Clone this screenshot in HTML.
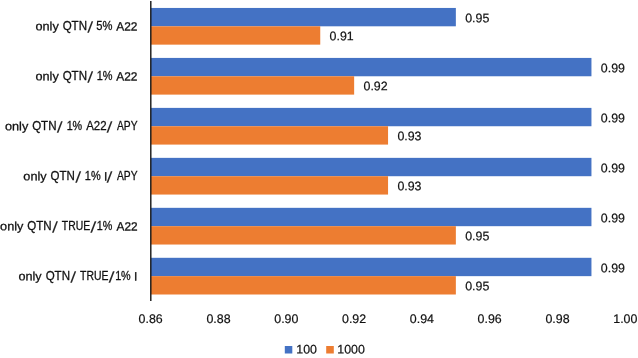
<!DOCTYPE html>
<html><head><meta charset="utf-8"><title>chart</title>
<style>
html,body{margin:0;padding:0;background:#fff;}
body{width:638px;height:358px;overflow:hidden;}
svg{display:block;will-change:transform}
text{font-family:"Liberation Sans",sans-serif;fill:#111;stroke:#111;stroke-width:0.28px}
.c{font-size:12.0px}
.n{font-size:12.4px;stroke-width:0.2px}
.s{font-size:15.5px;stroke:none;fill:#2a2a2a}
</style></head><body>
<svg width="638" height="358" viewBox="0 0 638 358">
<rect x="0" y="0" width="638" height="358" fill="#ffffff"/>
<rect x="150.75" y="7.95" width="305.10" height="18.35" fill="#4472C4"/>
<rect x="150.75" y="26.30" width="169.50" height="18.35" fill="#ED7D31"/>
<text class="n" transform="matrix(1 0.0005 0 1 0 -0.2386)" x="465.20" y="22.25">0.95</text>
<text class="n" transform="matrix(1 0.0005 0 1 0 -0.1708)" x="329.60" y="40.25">0.91</text>
<text class="c" transform="matrix(1 0.0005 0 1 0 -0.0432)"><tspan x="35.44" y="30.40" textLength="23.32" lengthAdjust="spacingAndGlyphs">only</tspan> <tspan x="62.66" y="30.40" textLength="24.35" lengthAdjust="spacingAndGlyphs">QTN</tspan><tspan class="s" x="87.15" y="32.40" textLength="5.99" lengthAdjust="spacingAndGlyphs">/</tspan> <tspan x="96.37" y="30.40" textLength="16.15" lengthAdjust="spacingAndGlyphs">5%</tspan> <tspan x="116.25" y="30.40" textLength="21.21" lengthAdjust="spacingAndGlyphs">A22</tspan></text>
<rect x="150.75" y="57.92" width="440.70" height="18.35" fill="#4472C4"/>
<rect x="150.75" y="76.27" width="203.40" height="18.35" fill="#ED7D31"/>
<text class="n" transform="matrix(1 0.0005 0 1 0 -0.3064)" x="600.80" y="72.25">0.99</text>
<text class="n" transform="matrix(1 0.0005 0 1 0 -0.1878)" x="363.50" y="90.25">0.92</text>
<text class="c" transform="matrix(1 0.0005 0 1 0 -0.0432)"><tspan x="35.44" y="80.40" textLength="23.32" lengthAdjust="spacingAndGlyphs">only</tspan> <tspan x="62.66" y="80.40" textLength="24.35" lengthAdjust="spacingAndGlyphs">QTN</tspan><tspan class="s" x="87.15" y="82.40" textLength="5.99" lengthAdjust="spacingAndGlyphs">/</tspan> <tspan x="96.72" y="80.40" textLength="15.80" lengthAdjust="spacingAndGlyphs">1%</tspan> <tspan x="116.25" y="80.40" textLength="21.21" lengthAdjust="spacingAndGlyphs">A22</tspan></text>
<rect x="150.75" y="107.89" width="440.70" height="18.35" fill="#4472C4"/>
<rect x="150.75" y="126.24" width="237.30" height="18.35" fill="#ED7D31"/>
<text class="n" transform="matrix(1 0.0005 0 1 0 -0.3064)" x="600.80" y="122.25">0.99</text>
<text class="n" transform="matrix(1 0.0005 0 1 0 -0.2047)" x="397.40" y="140.25">0.93</text>
<text class="c" transform="matrix(1 0.0005 0 1 0 -0.0357)"><tspan x="4.94" y="130.40" textLength="23.32" lengthAdjust="spacingAndGlyphs">only</tspan> <tspan x="32.16" y="130.40" textLength="24.35" lengthAdjust="spacingAndGlyphs">QTN</tspan><tspan class="s" x="56.85" y="132.40" textLength="5.99" lengthAdjust="spacingAndGlyphs">/</tspan> <tspan x="66.63" y="130.40" textLength="15.58" lengthAdjust="spacingAndGlyphs">1%</tspan> <tspan x="86.14" y="130.40" textLength="20.40" lengthAdjust="spacingAndGlyphs">A22</tspan><tspan class="s" x="106.55" y="132.40" textLength="5.99" lengthAdjust="spacingAndGlyphs">/</tspan> <tspan x="116.91" y="130.40" textLength="20.60" lengthAdjust="spacingAndGlyphs">APY</tspan></text>
<rect x="150.75" y="157.86" width="440.70" height="18.35" fill="#4472C4"/>
<rect x="150.75" y="176.21" width="237.30" height="18.35" fill="#ED7D31"/>
<text class="n" transform="matrix(1 0.0005 0 1 0 -0.3064)" x="600.80" y="172.25">0.99</text>
<text class="n" transform="matrix(1 0.0005 0 1 0 -0.2047)" x="397.40" y="190.25">0.93</text>
<text class="c" transform="matrix(1 0.0005 0 1 0 -0.0403)"><tspan x="23.34" y="180.40" textLength="23.32" lengthAdjust="spacingAndGlyphs">only</tspan> <tspan x="50.46" y="180.40" textLength="24.35" lengthAdjust="spacingAndGlyphs">QTN</tspan><tspan class="s" x="75.15" y="182.40" textLength="5.99" lengthAdjust="spacingAndGlyphs">/</tspan> <tspan x="84.82" y="180.40" textLength="15.80" lengthAdjust="spacingAndGlyphs">1%</tspan> <tspan x="104.00" y="180.40" textLength="3.34" lengthAdjust="spacingAndGlyphs">I</tspan><tspan class="s" x="106.55" y="182.40" textLength="5.99" lengthAdjust="spacingAndGlyphs">/</tspan> <tspan x="116.91" y="180.40" textLength="20.60" lengthAdjust="spacingAndGlyphs">APY</tspan></text>
<rect x="150.75" y="207.83" width="440.70" height="18.35" fill="#4472C4"/>
<rect x="150.75" y="226.18" width="305.10" height="18.35" fill="#ED7D31"/>
<text class="n" transform="matrix(1 0.0005 0 1 0 -0.3064)" x="600.80" y="222.25">0.99</text>
<text class="n" transform="matrix(1 0.0005 0 1 0 -0.2386)" x="465.20" y="240.25">0.95</text>
<text class="c" transform="matrix(1 0.0005 0 1 0 -0.0344)"><tspan x="0.14" y="230.40" textLength="23.32" lengthAdjust="spacingAndGlyphs">only</tspan> <tspan x="27.36" y="230.40" textLength="24.35" lengthAdjust="spacingAndGlyphs">QTN</tspan><tspan class="s" x="52.05" y="232.40" textLength="5.99" lengthAdjust="spacingAndGlyphs">/</tspan> <tspan x="61.80" y="230.40" textLength="28.35" lengthAdjust="spacingAndGlyphs">TRUE</tspan><tspan class="s" x="90.26" y="232.40" textLength="6.17" lengthAdjust="spacingAndGlyphs">/</tspan><tspan x="96.83" y="230.40" textLength="15.58" lengthAdjust="spacingAndGlyphs">1%</tspan> <tspan x="116.55" y="230.40" textLength="21.11" lengthAdjust="spacingAndGlyphs">A22</tspan></text>
<rect x="150.75" y="257.80" width="440.70" height="18.35" fill="#4472C4"/>
<rect x="150.75" y="276.15" width="305.10" height="18.35" fill="#ED7D31"/>
<text class="n" transform="matrix(1 0.0005 0 1 0 -0.3064)" x="600.80" y="272.25">0.99</text>
<text class="n" transform="matrix(1 0.0005 0 1 0 -0.2386)" x="465.20" y="290.25">0.95</text>
<text class="c" transform="matrix(1 0.0005 0 1 0 -0.0389)"><tspan x="18.44" y="280.40" textLength="23.22" lengthAdjust="spacingAndGlyphs">only</tspan> <tspan x="45.66" y="280.40" textLength="24.35" lengthAdjust="spacingAndGlyphs">QTN</tspan><tspan class="s" x="70.25" y="282.40" textLength="5.99" lengthAdjust="spacingAndGlyphs">/</tspan> <tspan x="80.10" y="280.40" textLength="28.35" lengthAdjust="spacingAndGlyphs">TRUE</tspan><tspan class="s" x="108.56" y="282.40" textLength="6.17" lengthAdjust="spacingAndGlyphs">/</tspan><tspan x="115.13" y="280.40" textLength="15.58" lengthAdjust="spacingAndGlyphs">1%</tspan> <tspan x="134.05" y="280.40" textLength="3.34" lengthAdjust="spacingAndGlyphs">I</tspan></text>
<rect x="150.1" y="1" width="1.4" height="300" fill="#141414"/>
<text class="n" transform="matrix(1 0.0005 0 1 0 -0.0754)" x="150.70" y="323.1" text-anchor="middle">0.86</text>
<text class="n" transform="matrix(1 0.0005 0 1 0 -0.1093)" x="218.50" y="323.1" text-anchor="middle">0.88</text>
<text class="n" transform="matrix(1 0.0005 0 1 0 -0.1432)" x="286.30" y="323.1" text-anchor="middle">0.90</text>
<text class="n" transform="matrix(1 0.0005 0 1 0 -0.1771)" x="354.10" y="323.1" text-anchor="middle">0.92</text>
<text class="n" transform="matrix(1 0.0005 0 1 0 -0.2110)" x="421.90" y="323.1" text-anchor="middle">0.94</text>
<text class="n" transform="matrix(1 0.0005 0 1 0 -0.2449)" x="489.70" y="323.1" text-anchor="middle">0.96</text>
<text class="n" transform="matrix(1 0.0005 0 1 0 -0.2788)" x="557.50" y="323.1" text-anchor="middle">0.98</text>
<text class="n" transform="matrix(1 0.0005 0 1 0 -0.3127)" x="625.30" y="323.1" text-anchor="middle">1.00</text>
<rect x="284.8" y="346" width="7.5" height="7.5" fill="#4472C4"/>
<text class="n" transform="matrix(1 0.0005 0 1 0 -0.1534)" x="296.25" y="353.50">100</text>
<rect x="326.2" y="346" width="7.6" height="7.5" fill="#ED7D31"/>
<text class="n" transform="matrix(1 0.0005 0 1 0 -0.1756)" x="337.25" y="353.50">1000</text>
</svg></body></html>
